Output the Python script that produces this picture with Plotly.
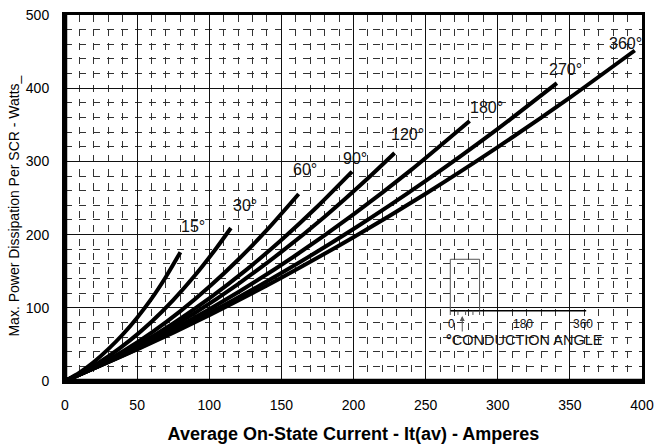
import plotly.graph_objects as go

# Conduction angle curves: average on-state current (A) vs max power dissipation (W)
angles = ["15°", "30°", "60°", "90°", "120°", "180°", "270°", "360°"]

i_15 = [0, 10, 20, 30, 40, 50, 60, 70, 80]
p_15 = [0, 11.5, 26.0, 43.5, 63.5, 86.5, 112.5, 142.5, 176.0]

i_30 = [0, 15, 30, 45, 60, 75, 90, 105, 115]
p_30 = [0, 15.0, 33.5, 55.5, 81.0, 110.5, 144.0, 181.7, 209.0]

i_60 = [0, 20, 40, 60, 80, 100, 120, 140, 162]
p_60 = [0, 18.2, 40.2, 66.0, 95.4, 128.7, 165.7, 206.4, 255.5]

i_90 = [0, 25, 50, 75, 100, 125, 150, 175, 199]
p_90 = [0, 22.4, 48.7, 78.8, 112.9, 150.8, 192.7, 238.4, 286.0]

i_120 = [0, 30, 60, 90, 120, 150, 180, 210, 228.5]
p_120 = [0, 26.7, 57.7, 92.9, 132.5, 176.4, 224.5, 277.0, 311.5]

i_180 = [0, 40, 80, 120, 160, 200, 240, 280.5]
p_180 = [0, 35.3, 75.7, 121.2, 171.8, 227.6, 288.4, 355.2]

i_270 = [0, 50, 100, 150, 200, 250, 300, 341]
p_270 = [0, 43.7, 92.8, 147.5, 207.6, 273.3, 344.4, 406.9]

i_360 = [0, 50, 100, 150, 200, 250, 300, 350, 395]
p_360 = [0, 43.0, 90.0, 141.2, 196.5, 255.9, 319.5, 387.1, 451.5]

# label anchor positions (data units) for each angle
label_x = [88.6, 124.7, 166.2, 200.8, 237.5, 292.2, 346.9, 388.6]
label_y = [210.4, 240.4, 288.3, 304.6, 336.1, 373.6, 424.9, 461.7]

x_ticks = [0, 50, 100, 150, 200, 250, 300, 350, 400]
y_ticks = [0, 100, 200, 300, 400, 500]

series_i = [i_15, i_30, i_60, i_90, i_120, i_180, i_270, i_360]
series_p = [p_15, p_30, p_60, p_90, p_120, p_180, p_270, p_360]

FONT = "Liberation Sans, Arial, sans-serif"
NARROW = "Liberation Sans Narrow, Arial Narrow, Liberation Sans, Arial, sans-serif"

W, H = 658, 444
ML, MR, MT, MB = 65, 15.5, 15, 63
pw, ph = W - ML - MR, H - MT - MB

fig = go.Figure()
for name, xs, ys in zip(angles, series_i, series_p):
    fig.add_trace(go.Scatter(x=xs, y=ys, mode="lines", name=name,
                             line=dict(color="black", width=4, shape="spline", smoothing=0.6),
                             showlegend=False, hoverinfo="skip"))

annotations = []
for name, lx, ly in zip(angles, label_x, label_y):
    annotations.append(dict(x=lx, y=ly, xref="x", yref="y", text=name, showarrow=False,
                            font=dict(family=FONT, size=16, color="#111"),
                            xanchor="center", yanchor="middle"))

# inset (conduction angle diagram)
ins_col = "#555"
annotations += [
    dict(x=267.6, y=77.5, xref="x", yref="y", text="0", showarrow=False,
         font=dict(family=NARROW, size=12, color="#111"), xanchor="center", yanchor="middle"),
    dict(x=317.4, y=77.5, xref="x", yref="y", text="180", showarrow=False,
         font=dict(family=NARROW, size=12, color="#111"), xanchor="center", yanchor="middle"),
    dict(x=359.0, y=77.5, xref="x", yref="y", text="360", showarrow=False,
         font=dict(family=NARROW, size=12, color="#111"), xanchor="center", yanchor="middle"),
    dict(x=263.0, y=56.5, xref="x", yref="y", text="<b>°</b>CONDUCTION ANGLE", showarrow=False,
         font=dict(family=NARROW, size=14.5, color="#111"), xanchor="left", yanchor="middle"),
    dict(x=275.4, y=88.8, ax=275.4, ay=65.6, xref="x", yref="y", axref="x", ayref="y",
         text="", showarrow=True, arrowhead=2, arrowsize=1, arrowwidth=1, arrowcolor=ins_col),
    # y axis title
    dict(x=(13.5 - ML) / pw, y=(H - MB - 206) / ph, xref="paper", yref="paper",
         text="Max. Power Dissipation Per SCR - Watts_",
         showarrow=False, textangle=-90, font=dict(family=FONT, size=14, color="black"),
         xanchor="center", yanchor="middle"),
]

shapes = [
    dict(type="rect", x0=267.1, x1=287.4, y0=96.0, y1=166.3, xref="x", yref="y",
         line=dict(color=ins_col, width=1)),
    dict(type="line", x0=267.1, x1=361.3, y0=96.0, y1=96.0, xref="x", yref="y",
         line=dict(color="black", width=1.5)),
]
for tx in [267.1, 272.4, 277.7, 282.8, 287.4]:
    shapes.append(dict(type="line", x0=tx, x1=tx, y0=90.2, y1=96.0, xref="x", yref="y",
                       line=dict(color=ins_col, width=1)))
# heavier frame on left and bottom
shapes += [
    dict(type="line", x0=0, x1=0, y0=0, y1=1, xref="paper", yref="paper",
         line=dict(color="black", width=4.5)),
    dict(type="line", x0=0, x1=1, y0=0, y1=0, xref="paper", yref="paper",
         line=dict(color="black", width=4.5)),
]

fig.update_layout(
    width=W, height=H,
    margin=dict(l=ML, r=MR, t=MT, b=MB, autoexpand=False),
    paper_bgcolor="white", plot_bgcolor="white",
    font=dict(family=FONT, color="black"),
    annotations=annotations, shapes=shapes,
)
fig.update_xaxes(
    range=[0, 400], tickvals=x_ticks, ticktext=[str(v) for v in x_ticks],
    showline=True, mirror=True, linecolor="black", linewidth=3, automargin=False,
    showgrid=True, gridcolor="#111", gridwidth=1, zeroline=False, ticks="",
    tickfont=dict(family=FONT, size=14, color="black"), ticklabelstandoff=9,
    minor=dict(dtick=10, showgrid=True, gridcolor="#333", gridwidth=1, griddash="7px,7px"),
    title=dict(text="<b>Average On-State Current - It(av) - Amperes</b>",
               font=dict(family=FONT, size=18, color="black"), standoff=17),
)
fig.update_yaxes(
    range=[0, 500], tickvals=y_ticks, ticktext=[str(v) for v in y_ticks],
    showline=True, mirror=True, linecolor="black", linewidth=3, automargin=False,
    showgrid=True, gridcolor="#111", gridwidth=1, zeroline=False, ticks="",
    tickfont=dict(family=FONT, size=14, color="black"), ticklabelstandoff=10,
    minor=dict(dtick=20, showgrid=True, gridcolor="#333", gridwidth=1, griddash="7px,7px"),
)

fig.write_html("out.html")
